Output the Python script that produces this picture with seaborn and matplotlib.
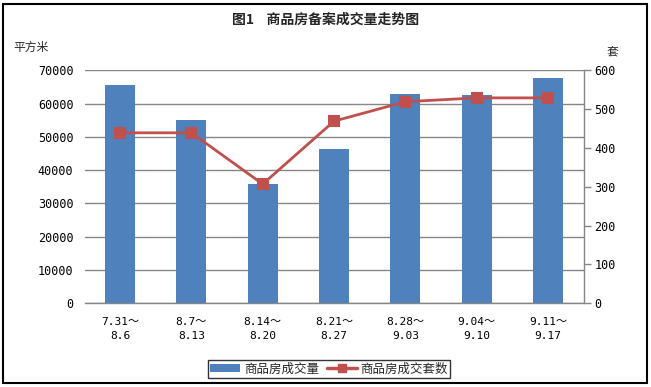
import matplotlib
matplotlib.use("Agg")
import matplotlib.pyplot as plt
import seaborn as sns
import pandas as pd
from matplotlib.patches import Rectangle
from matplotlib.lines import Line2D
from matplotlib.patches import Patch

categories = ["7.31～\n8.6", "8.7～\n8.13", "8.14～\n8.20", "8.21～\n8.27",
              "8.28～\n9.03", "9.04～\n9.10", "9.11～\n9.17"]
area = [65600, 55000, 35800, 46300, 62900, 62600, 67700]
units = [439, 439, 307, 469, 519, 529, 529]
left_ticks = [0, 10000, 20000, 30000, 40000, 50000, 60000, 70000]
right_ticks = [0, 100, 200, 300, 400, 500, 600]

sns.set_theme(style="white")
plt.rcParams["font.family"] = ["Noto Sans CJK SC", "DejaVu Sans"]
num_font = ["DejaVu Sans Mono", "Noto Sans CJK SC"]

bar_color = "#4F81BD"
line_color = "#C0504D"
grid_color = "#868686"

df = pd.DataFrame({"period": categories, "area": area, "units": units})

fig = plt.figure(figsize=(6.51, 3.87), dpi=100)
ax = fig.add_axes([84.5 / 651, 1 - 303.3 / 387, 499 / 651, 233 / 387])

sns.barplot(data=df, x="period", y="area", color=bar_color, width=0.42,
            saturation=1, ax=ax, zorder=3, linewidth=0, edgecolor="none")
ax.set_ylim(0, 70000)
ax.set_xlim(-0.5, 6.5)
ax.set_yticks(left_ticks)
ax.set_yticklabels([str(t) for t in left_ticks], fontsize=8.5, family=num_font)
ax.yaxis.grid(True, color=grid_color, linewidth=1)
ax.set_axisbelow(True)
ax.set_xlabel("")
ax.set_ylabel("")
ax.tick_params(axis="y", length=0, pad=8, labelcolor="black")
ax.tick_params(axis="x", length=0, pad=10, labelcolor="black")
for s in ["left", "top", "right"]:
    ax.spines[s].set_visible(False)
ax.spines["bottom"].set_color(grid_color)
ax.spines["bottom"].set_linewidth(1)
for lbl in ax.get_xticklabels():
    lbl.set_family(num_font)
    lbl.set_fontsize(8)
    lbl.set_linespacing(1.45)

ax2 = ax.twinx()
sns.pointplot(data=df, x="period", y="units", color=line_color, markers="s",
              ax=ax2, linewidth=2, markersize=7, zorder=5)
ax2.set_ylim(0, 600)
ax2.set_xlim(-0.5, 6.5)
ax2.set_yticks(right_ticks)
ax2.set_yticklabels([str(t) for t in right_ticks], fontsize=8.5, family=num_font)
ax2.set_ylabel("")
ax2.set_xlabel("")
ax2.tick_params(axis="y", length=5, color=grid_color, width=1, pad=3,
                labelcolor="black", right=True, direction="out")
for s in ["left", "top", "bottom"]:
    ax2.spines[s].set_visible(False)
ax2.spines["right"].set_visible(True)
ax2.spines["right"].set_color(grid_color)
ax2.spines["right"].set_linewidth(1)
ax2.grid(False)

fig.text(326 / 651, 1 - 20 / 387, "图1    商品房备案成交量走势图", ha="center",
         va="center", fontsize=10, fontweight="bold")
fig.text(13 / 651, 1 - 47 / 387, "平方米", ha="left", va="center", fontsize=8.5)
fig.text(612 / 651, 1 - 53 / 387, "套", ha="center", va="center", fontsize=8.5)

handles = [Patch(facecolor=bar_color, edgecolor="none"),
           Line2D([0], [0], color=line_color, linewidth=2.5, marker="s",
                  markersize=6)]
leg = fig.legend(handles, ["商品房成交量", "商品房成交套数"], loc="center",
                 bbox_to_anchor=(329 / 651, 1 - 369 / 387), ncol=2,
                 fontsize=9, frameon=True, fancybox=False,
                 handlelength=2.4, handleheight=0.6, handletextpad=0.3,
                 columnspacing=0.6, borderpad=0.2, borderaxespad=0)
leg.get_frame().set_edgecolor("black")
leg.get_frame().set_linewidth(1)

fig.patches.append(Rectangle((3 / 651, 4 / 387), 644 / 651, 379 / 387,
                             transform=fig.transFigure, fill=False,
                             edgecolor="black", linewidth=1.5))

fig.savefig("out.png", dpi=100)
